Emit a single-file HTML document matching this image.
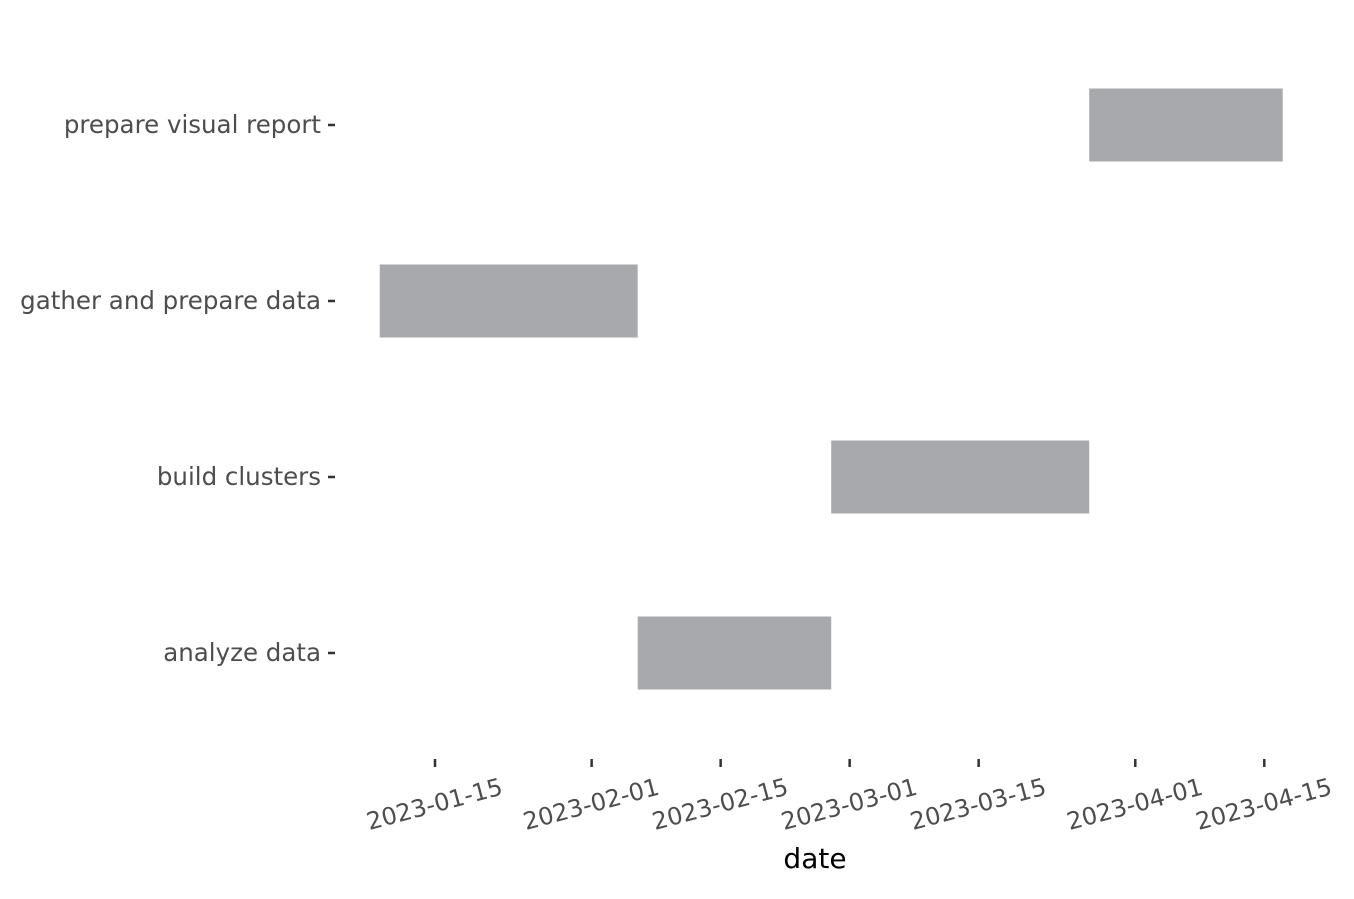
<!DOCTYPE html>
<html><head><meta charset="utf-8"><style>
html,body{margin:0;padding:0;background:#fff;}
svg text{font-family:"DejaVu Sans","Liberation Sans",sans-serif;}
</style></head><body>
<svg id="chart" width="1354" height="894">
<g id="plot"></g>
<text x="815" y="868" font-size="28" text-anchor="middle" fill="#000">date</text>
</svg>
<script>
const tasks = ["analyze data","build clusters","gather and prepare data","prepare visual report"];
const starts = ["2023-02-06","2023-02-27","2023-01-09","2023-03-27"];
const ends = ["2023-02-27","2023-03-27","2023-02-06","2023-04-17"];
const tickLabels = ["2023-01-15","2023-02-01","2023-02-15","2023-03-01","2023-03-15","2023-04-01","2023-04-15"];

const NS="http://www.w3.org/2000/svg";
const g=document.getElementById('plot');
const DAY=86400000;
const t0=Date.parse("2023-01-15T00:00:00Z");
function x(d){return 435+(Date.parse(d+"T00:00:00Z")-t0)/DAY*(129/14);}
function y(i){return 653-i*176;}
function mk(tag,attrs){const e=document.createElementNS(NS,tag);for(const k in attrs)e.setAttribute(k,attrs[k]);g.appendChild(e);return e;}
tasks.forEach((t,i)=>{
  const r=mk('rect',{x:x(starts[i]),y:y(i)-36.5,width:x(ends[i])-x(starts[i]),height:73,fill:'#a8a9ad'});
  
  
  const tk=mk('line',{x1:328,x2:335,y1:y(i),y2:y(i),stroke:'#333','stroke-width':2.5});
  
  
  const lb=mk('text',{x:321,y:y(i)+8,'font-size':24.5,'text-anchor':'end',fill:'#4d4d4d'});
  lb.textContent=t;
  
  
});
tickLabels.forEach(d=>{
  const xx=x(d);
  const tk=mk('line',{x1:xx,x2:xx,y1:759,y2:767,stroke:'#333','stroke-width':2.5});
  
  
  const lb=mk('text',{x:xx+69,y:794,'font-size':24,'text-anchor':'end',fill:'#4d4d4d',transform:`rotate(-15 ${xx+69} 794)`});
  lb.textContent=d;
  
  
});
</script>
</body></html>
